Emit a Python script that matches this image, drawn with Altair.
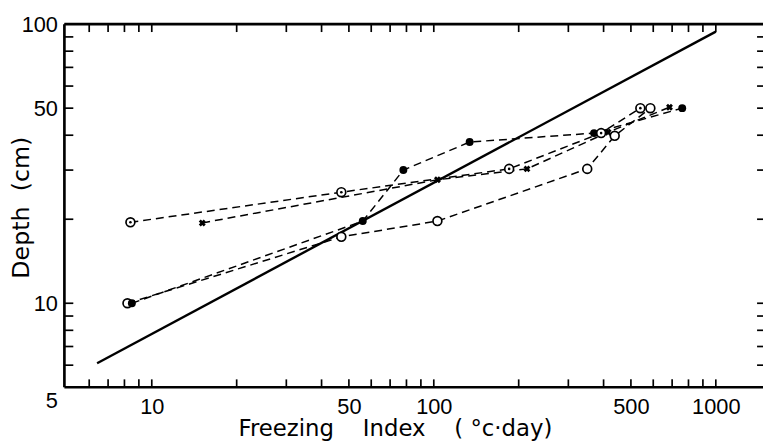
import altair as alt
import pandas as pd

# ---- data ----
fi_filled = [8.5, 56, 78, 134, 370, 760]
depth_filled = [10.0, 19.7, 30.0, 37.8, 40.7, 50.0]

fi_open = [8.2, 47, 103, 350, 438, 586]
depth_open = [10.0, 17.3, 19.7, 30.3, 39.8, 50.0]

fi_dotted = [8.4, 47, 185, 392, 540]
depth_dotted = [19.5, 25.0, 30.3, 40.7, 50.0]

fi_cross = [15.1, 103, 214, 415, 685]
depth_cross = [19.4, 27.7, 30.3, 41.0, 50.4]

fi_fit = [6.4, 1000]
depth_fit = [6.1, 94]

x_tick_values = [6, 7, 8, 9, 10, 20, 30, 40, 50, 60, 70, 80, 90,
                 100, 200, 300, 400, 500, 600, 700, 800, 900, 1000]
y_tick_values = [6, 7, 8, 9, 10, 20, 30, 40, 50, 60, 70, 80, 90, 100]
x_label_values = [10, 50, 100, 500, 1000]
y_label_values = [5, 10, 50, 100]

x_domain = [4.9, 1470]
y_domain = [5, 100]

W, H = 706, 367

# ---- tables ----
rows = []
for name, xs, ys in [("filled", fi_filled, depth_filled),
                     ("open", fi_open, depth_open),
                     ("dotted", fi_dotted, depth_dotted),
                     ("cross", fi_cross, depth_cross)]:
    for a, b in zip(xs, ys):
        rows.append({"fi": a, "depth": b, "series": name})
series_df = pd.DataFrame(rows)
fit_df = pd.DataFrame({"fi": fi_fit, "depth": depth_fit})
xt_df = pd.DataFrame({"fi": x_tick_values})
yt_df = pd.DataFrame({"depth": y_tick_values})
one_df = pd.DataFrame({"a": [0]})

x_axis = alt.Axis(
    values=x_label_values, format="d", ticks=False, tickSize=0, domain=False,
    grid=False, labelFont="Liberation Sans", labelFontSize=22, labelColor="black",
    labelPadding=10, labelFlush=False, labelOverlap=False,
    title="Freezing\u00a0\u00a0\u00a0\u00a0Index\u00a0\u00a0\u00a0\u00a0(\u00a0°c·day)",
    titleFont="DejaVu Sans", titleFontSize=23, titleFontWeight="normal",
    titleColor="black", titleX=334, titleY=49, titleAlign="center",
    titleBaseline="alphabetic",
)
y_axis = alt.Axis(
    values=y_label_values, format="d", ticks=False, tickSize=0, domain=False,
    grid=False, labelFont="Liberation Sans", labelFontSize=22, labelColor="black",
    labelPadding=7, labelFlush=False, labelOverlap=False,
    labelOffset={"condition": {"test": "datum.value == 5", "value": 13}, "value": 0},
    title="Depth\u00a0\u00a0(cm)",
    titleFont="DejaVu Sans", titleFontSize=24, titleFontWeight="normal",
    titleColor="black", titleX=-36, titleY=185, titleAlign="center",
    titleBaseline="alphabetic", titleAngle=270,
)


def X(field):
    return alt.X(f"{field}:Q", scale=alt.Scale(type="log", domain=x_domain, nice=False),
                 axis=x_axis)


def Y(field):
    return alt.Y(f"{field}:Q", scale=alt.Scale(type="log", domain=y_domain, nice=False),
                 axis=y_axis)


# ---- tick marks (pointing inward) ----
tick_style = dict(color="black", strokeWidth=1.7)
ticks_bottom = alt.Chart(xt_df).mark_rule(**tick_style).encode(
    x=X("fi"), y=alt.value(H), y2=alt.value(H - 8))
ticks_top = alt.Chart(xt_df).mark_rule(**tick_style).encode(
    x=X("fi"), y=alt.value(0), y2=alt.value(8))
ticks_left = alt.Chart(yt_df).mark_rule(**tick_style).encode(
    y=Y("depth"), x=alt.value(0), x2=alt.value(9))
ticks_right = alt.Chart(yt_df).mark_rule(**tick_style).encode(
    y=Y("depth"), x=alt.value(W - 6), x2=alt.value(W))

# ---- frame (top, bottom, left) ----
frame_style = dict(color="black", strokeWidth=2.7)
frame_top = alt.Chart(one_df).mark_rule(**frame_style).encode(
    x=alt.value(0), x2=alt.value(W), y=alt.value(0))
frame_bottom = alt.Chart(one_df).mark_rule(**frame_style).encode(
    x=alt.value(0), x2=alt.value(W), y=alt.value(H))
frame_left = alt.Chart(one_df).mark_rule(**frame_style).encode(
    x=alt.value(0), y=alt.value(0), y2=alt.value(H))

# ---- fitted line ----
fit_line = alt.Chart(fit_df).mark_line(color="black", strokeWidth=2.4).encode(
    x=X("fi"), y=Y("depth"))

# ---- dashed series lines ----
dashed = alt.Chart(series_df).mark_line(
    color="black", strokeWidth=1.5, strokeDash=[8, 5]).encode(
    x=X("fi"), y=Y("depth"), detail="series:N")

base = alt.Chart(series_df)
pts_filled = base.transform_filter(alt.datum.series == "filled").mark_point(
    shape="circle", filled=True, color="black", size=64, opacity=1).encode(
    x=X("fi"), y=Y("depth"))
pts_open = base.transform_filter(alt.datum.series == "open").mark_point(
    shape="circle", filled=True, fill="white", stroke="black", strokeWidth=1.7,
    size=80, opacity=1).encode(x=X("fi"), y=Y("depth"))
pts_dotted = base.transform_filter(alt.datum.series == "dotted").mark_point(
    shape="circle", filled=True, fill="white", stroke="black", strokeWidth=1.7,
    size=80, opacity=1).encode(x=X("fi"), y=Y("depth"))
pts_dotted_center = base.transform_filter(alt.datum.series == "dotted").mark_point(
    shape="circle", filled=True, color="black", size=7, opacity=1).encode(
    x=X("fi"), y=Y("depth"))
pts_cross = base.transform_filter(alt.datum.series == "cross").mark_point(
    shape="cross", angle=45, filled=True, color="black", size=50, opacity=1).encode(
    x=X("fi"), y=Y("depth"))

chart = alt.layer(
    ticks_bottom, ticks_top, ticks_left, ticks_right,
    frame_top, frame_bottom, frame_left,
    fit_line, dashed,
    pts_open, pts_filled, pts_dotted, pts_dotted_center, pts_cross,
).properties(
    width=W, height=H,
    padding={"left": 57, "top": 14, "right": 0, "bottom": 54},
    autosize=alt.AutoSizeParams(type="none"),
    background="white",
).configure_view(stroke=None)

chart.save("out.html", embed_options={"renderer": "svg", "actions": False})
